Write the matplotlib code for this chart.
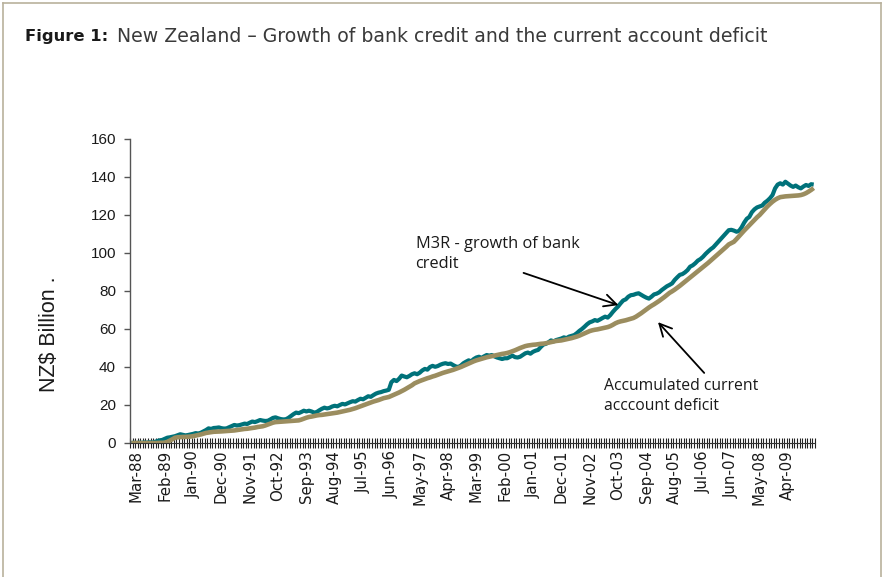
import matplotlib
matplotlib.use("Agg")
import matplotlib.pyplot as plt
import matplotlib.transforms as mtrans
from matplotlib.lines import Line2D
import numpy as np

# monthly values, Mar-88 onwards (NZ$ billion)
m3r_credit = [
    0.0, 0.1, 0.0, 0.2, 0.1, 0.3, 0.2, 0.4, 0.3, 0.5, 1.0, 1.4,
    1.6, 2.2, 2.8, 3.0, 3.3, 3.6, 4.1, 4.6, 4.3, 4.0, 4.2, 4.5,
    4.8, 5.2, 5.0, 5.4, 6.1, 6.8, 7.7, 7.4, 7.9, 8.0, 8.2, 7.8,
    7.6, 7.7, 8.3, 8.9, 9.5, 9.2, 9.4, 9.8, 10.2, 10.0, 10.7, 11.3,
    11.0, 11.5, 12.1, 11.8, 11.6, 11.7, 12.4, 13.2, 13.5, 13.0, 12.6, 12.4,
    12.5, 13.2, 14.2, 15.2, 16.0, 15.7, 16.3, 17.0, 16.6, 17.0, 16.6, 16.0,
    16.3, 17.2, 18.0, 18.6, 18.2, 18.5, 19.2, 19.6, 19.3, 20.0, 20.6, 20.3,
    20.9, 21.5, 22.0, 21.8, 22.6, 23.3, 23.0, 23.8, 24.6, 24.3, 25.2, 26.0,
    26.5, 26.8, 27.3, 27.6, 28.0, 32.0, 33.2, 32.6, 33.8, 35.5, 35.0, 34.6,
    35.3, 36.2, 36.7, 36.2, 37.0, 38.2, 39.0, 38.6, 40.0, 40.6, 40.1, 40.5,
    41.2, 41.7, 42.0, 41.6, 41.8, 41.0, 40.3, 40.0, 40.8, 42.0, 42.8, 43.5,
    43.0, 44.2, 45.0, 45.4, 44.8, 45.6, 46.3, 46.0, 46.3, 45.6, 45.0, 44.6,
    44.2, 44.6, 44.6, 45.3, 46.0, 45.2, 45.0, 45.4, 46.3, 47.2, 47.6, 47.0,
    48.0, 48.6, 49.0, 50.5, 51.8, 52.2, 53.0, 54.0, 53.5, 54.2, 54.6, 55.0,
    55.6, 55.2, 56.0, 56.4, 56.8, 57.8, 59.0, 60.0, 61.2, 62.5, 63.5, 64.0,
    64.7, 64.3, 65.0, 65.8, 66.5, 66.0, 67.3, 69.0, 70.5, 71.8, 73.5, 75.0,
    75.6, 77.0, 77.8, 78.0, 78.5, 78.8, 78.0, 77.2, 76.5, 76.0, 77.0, 78.2,
    78.6, 79.3, 80.5, 81.5, 82.5, 83.2, 84.0, 85.8, 87.2, 88.5, 88.9, 89.8,
    91.0, 92.8, 93.5, 94.6, 96.0, 96.8, 98.0, 99.5, 100.8, 102.0, 103.0, 104.5,
    106.0, 107.5, 109.0, 110.5, 112.0, 112.2, 111.8, 111.2, 111.6, 113.5, 116.0, 118.0,
    119.0, 121.5, 123.0, 124.0, 124.5, 125.0, 126.5, 127.5, 128.8, 130.5, 134.0, 136.0,
    136.7, 136.0, 137.5, 136.5, 135.5, 134.8, 135.5, 134.6, 134.0, 135.0, 135.8, 135.3,
    136.2, 136.0,
]

ca_deficit = [
    0.0, 0.0, 0.0, 0.0, 0.0, 0.0, 0.0, 0.0, 0.0, 0.0, 0.0, 0.1,
    0.1, 0.2, 0.6, 1.3, 2.0, 2.8, 3.0, 3.1, 3.2, 3.2, 3.3, 3.4,
    3.6, 3.9, 4.2, 4.5, 4.9, 5.3, 5.5, 5.7, 5.9, 5.95, 6.0, 6.1,
    6.2, 6.3, 6.4, 6.5, 6.6, 6.8, 7.0, 7.2, 7.4, 7.5, 7.7, 7.9,
    8.1, 8.4, 8.6, 8.8, 9.2, 9.7, 10.2, 10.7, 11.0, 11.1, 11.2, 11.3,
    11.4, 11.5, 11.6, 11.7, 11.8, 11.9, 12.3, 12.8, 13.3, 13.7, 13.9, 14.2,
    14.5, 14.7, 14.8, 15.0, 15.2, 15.4, 15.6, 15.8, 16.0, 16.3, 16.6, 16.9,
    17.2, 17.5, 17.9, 18.3, 18.8, 19.3, 19.8, 20.3, 20.8, 21.3, 21.8, 22.2,
    22.6, 23.1, 23.6, 23.9, 24.2, 24.8, 25.4, 26.0, 26.6, 27.3, 28.0, 28.8,
    29.6, 30.4, 31.4, 32.0, 32.6, 33.1, 33.6, 34.1, 34.5, 35.0, 35.4, 35.9,
    36.4, 36.9, 37.3, 37.7, 38.1, 38.5, 39.0, 39.5, 40.0, 40.6, 41.2, 41.8,
    42.4, 43.0, 43.5, 43.9, 44.3, 44.7, 45.1, 45.4, 45.7, 46.0, 46.3, 46.6,
    46.9, 47.1, 47.4, 47.8, 48.3, 48.8, 49.4, 50.0, 50.5, 51.0, 51.3, 51.5,
    51.7, 51.8, 52.0, 52.2, 52.3, 52.5, 52.8, 53.1, 53.4, 53.7, 53.85, 54.0,
    54.3, 54.6, 54.9, 55.2, 55.6, 56.0, 56.5, 57.1, 57.7, 58.3, 58.9, 59.3,
    59.6, 59.8, 60.1, 60.4, 60.7, 61.0, 61.5, 62.2, 63.0, 63.6, 64.0, 64.3,
    64.6, 65.0, 65.4, 65.8, 66.5, 67.4, 68.3, 69.3, 70.3, 71.3, 72.2, 73.0,
    73.9, 74.8, 75.8, 76.8, 77.9, 79.0, 79.8, 80.7, 81.7, 82.7, 83.8, 84.9,
    86.0, 87.1, 88.2, 89.3, 90.4, 91.5, 92.6, 93.7, 94.8, 96.0, 97.2, 98.4,
    99.6, 100.8, 102.0, 103.2, 104.5, 105.2, 105.9, 107.3, 108.8, 110.3, 111.8, 113.2,
    114.6, 116.0, 117.4, 118.8, 120.0, 121.5, 123.0, 124.5, 125.8, 127.0, 128.0, 128.8,
    129.4, 129.6, 129.8, 129.9, 130.0, 130.1, 130.2, 130.3, 130.5, 130.9, 131.5, 132.3,
    133.2, 134.2,
]

tick_labels = ["Mar-88", "Feb-89", "Jan-90", "Dec-90", "Nov-91", "Oct-92",
               "Sep-93", "Aug-94", "Jul-95", "Jun-96", "May-97", "Apr-98",
               "Mar-99", "Feb-00", "Jan-01", "Dec-01", "Nov-02", "Oct-03",
               "Sep-04", "Aug-05", "Jul-06", "Jun-07", "May-08", "Apr-09"]
label_step = 11  # months between labels

n = len(m3r_credit)
months = np.arange(n)

fig = plt.figure(figsize=(8.84, 5.77), dpi=100)
fig.patch.set_facecolor("white")

# frame around the figure
frame_col = "#b9b19c"
fig.add_artist(Line2D([3 / 884, 881 / 884], [1 - 3 / 577, 1 - 3 / 577], color=frame_col, lw=1.2))
fig.add_artist(Line2D([3 / 884, 3 / 884], [0, 1 - 3 / 577], color=frame_col, lw=1.2))
fig.add_artist(Line2D([881 / 884, 881 / 884], [0, 1 - 3 / 577], color=frame_col, lw=1.2))

# title: bold part, then the rest
fig.text(25 / 884, 1 - 36 / 577, "Figure 1:", fontsize=11.8, fontweight="bold",
         family="DejaVu Sans", color="#1a1a1a", va="center", ha="left")
fig.text(117 / 884, 1 - 36 / 577,
         "New Zealand \u2013 Growth of bank credit and the current account deficit",
         fontsize=13.6, family="DejaVu Sans", color="#3a3a3a", va="center", ha="left")

ax = fig.add_axes([130 / 884, 1 - 443 / 577, 685 / 884, 304 / 577])

ax.plot(months, m3r_credit, color="#00727a", lw=3.0, solid_capstyle="butt", zorder=3)
ax.plot(months, ca_deficit, color="#9b8d5f", lw=3.3, solid_capstyle="butt", zorder=4)

ax.set_xlim(-0.5, n - 0.5)
ax.set_ylim(0, 160)
ax.set_yticks(range(0, 161, 20))

for s in ["top", "right"]:
    ax.spines[s].set_visible(False)
ax.spines["left"].set_color("#555555")
ax.spines["bottom"].set_color("#333333")
ax.spines["left"].set_linewidth(1.0)

ax.tick_params(axis="y", direction="out", length=4, width=1, color="#555555",
               pad=6, labelsize=11, labelcolor="#1a1a1a")
for lab in ax.get_yticklabels():
    lab.set_family("Liberation Sans")

ax.set_xticks(np.arange(0, n, label_step)[:len(tick_labels)])
ax.set_xticklabels(tick_labels, rotation=90, family="DejaVu Sans", fontsize=10.8, color="#1a1a1a")
ax.set_xticks(np.arange(-0.5, n, 1), minor=True)
ax.tick_params(axis="x", which="major", length=0, pad=5)
ax.tick_params(axis="x", which="minor", direction="inout", length=7, width=0.8, color="#222222")
shift = mtrans.ScaledTranslation(0.05, 0, fig.dpi_scale_trans)
for lab in ax.get_xticklabels():
    lab.set_transform(lab.get_transform() + shift)

ax.set_ylabel("NZ$ Billion .", family="Liberation Sans", fontsize=15.5, color="#1a1a1a")
ax.yaxis.set_label_coords(-0.102, 0.358)

# annotations
ax.text(110.4, 108.8, "M3R - growth of bank\ncredit", family="Open Sans", fontsize=11.8,
        color="#1a1a1a", va="top", ha="left", linespacing=1.3)
ax.annotate("", xy=(190.2, 72.1), xytext=(151.3, 90.0),
            arrowprops=dict(arrowstyle="->", color="black", lw=1.3, mutation_scale=22))
ax.text(183.5, 34.2, "Accumulated current\nacccount deficit", family="Open Sans", fontsize=11.3,
        color="#1a1a1a", va="top", ha="left", linespacing=1.3)
ax.annotate("", xy=(203.8, 64.7), xytext=(223.2, 35.8),
            arrowprops=dict(arrowstyle="->", color="black", lw=1.3, mutation_scale=22))

fig.savefig("out.png", dpi=100)
